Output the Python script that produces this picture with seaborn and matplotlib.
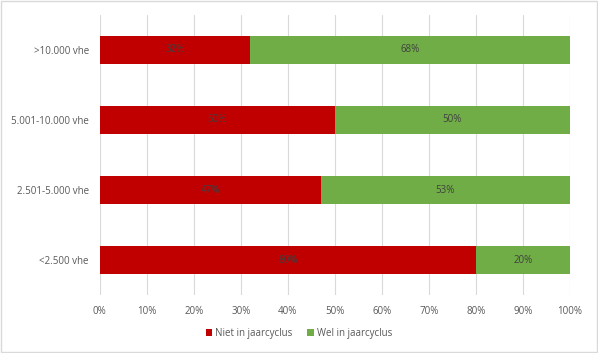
import pandas as pd
import numpy as np
import seaborn as sns
import matplotlib.pyplot as plt

sns.set_style("white")
plt.rcParams['font.family'] = ['Open Sans', 'DejaVu Sans']

# Data
categories = [">10.000 vhe", "5.001-10.000 vhe", "2.501-5.000 vhe", "<2.500 vhe"]
niet = [32, 50, 47, 80]
wel = [68, 50, 53, 20]

red = "#C00000"
green = "#70AD47"
txt = "#595959"

df = pd.DataFrame({"cat": categories, "niet": niet, "wel": wel})
df["total"] = df["niet"] + df["wel"]

fig = plt.figure(figsize=(5.98, 3.53), dpi=100)
ax = fig.add_axes([0.167, 0.164, 0.786, 0.794])

# stacked: draw the total in green, then the red part on top
sns.barplot(data=df, y="cat", x="total", color=green, orient="h", width=0.4,
            ax=ax, label="Wel in jaarcyclus", saturation=1)
sns.barplot(data=df, y="cat", x="niet", color=red, orient="h", width=0.4,
            ax=ax, label="Niet in jaarcyclus", saturation=1)
if ax.get_legend() is not None:
    ax.get_legend().remove()

for c in ax.containers:
    for p in c.patches:
        p.set_edgecolor("none")

# labels in the middle of each segment
ax.bar_label(ax.containers[1], labels=[f"{v}%" for v in niet], label_type="center",
             fontsize=7, color="#404040")
for i, (n, w) in enumerate(zip(niet, wel)):
    ax.text(n + w / 2, i, f"{w}%", ha="center", va="center", fontsize=7, color="#404040")

ax.set_xlim(0, 100)
ax.set_ylim(3.5, -0.5)
ax.set_xticks(np.arange(0, 101, 10))
ax.set_xticklabels([f"{v}%" for v in range(0, 101, 10)], fontsize=7, color=txt)
ax.tick_params(axis="y", labelsize=7, labelcolor=txt, length=0, pad=8)
ax.tick_params(axis="x", length=0, pad=8)
ax.set_xlabel("")
ax.set_ylabel("")
ax.xaxis.grid(True, color="#D9D9D9", linewidth=0.8)
ax.set_axisbelow(True)
for s in ax.spines.values():
    s.set_visible(False)

h, l = ax.get_legend_handles_labels()
order = [l.index("Niet in jaarcyclus"), l.index("Wel in jaarcyclus")]
fig.legend([h[i] for i in order], [l[i] for i in order], loc="center",
           bbox_to_anchor=(0.5, 0.055), ncol=2, frameon=False, fontsize=7,
           handlelength=0.7, handleheight=0.7, handletextpad=0.3, columnspacing=1.5,
           labelcolor=txt)

fig.patches.append(plt.Rectangle((0.002, 0.003), 0.996, 0.994, transform=fig.transFigure,
                                 fill=False, edgecolor="#D9D9D9", linewidth=1))

fig.savefig("out.png", dpi=100)
